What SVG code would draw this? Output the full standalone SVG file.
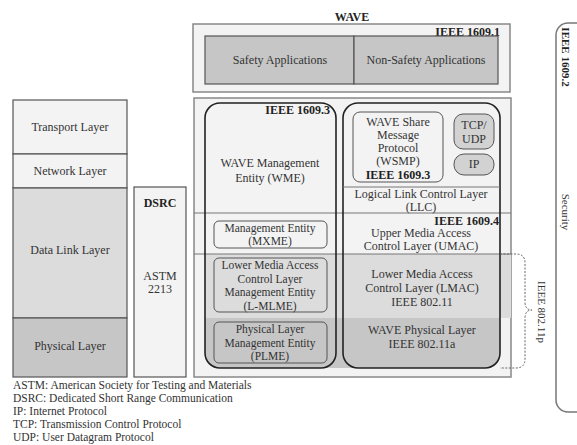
<svg xmlns="http://www.w3.org/2000/svg" width="577" height="445" viewBox="0 0 577 445">
<style>
text{font-family:"Liberation Serif","Times New Roman",serif;font-size:12px;fill:#333;text-anchor:middle;dominant-baseline:central}
.b{font-weight:bold;fill:#222}
.l{text-anchor:start;font-size:11.5px}
.r{text-anchor:end}
.s{font-size:11.5px}
.box{stroke:#555;stroke-width:1.2}
.light{fill:#f3f3f3}
.mid{fill:#dcdcdc}
.dark{fill:#c6c6c6}
.col{fill:none;stroke:#222;stroke-width:1.6}
.sub{fill:none;stroke:#555;stroke-width:1}
</style>
<rect width="577" height="445" fill="#fff"/>

<g id="wave-apps">
<text x="352" y="17" class="b">WAVE</text>
<rect x="193" y="24" width="317" height="68" class="light" stroke="#888" stroke-width="1.5"/>
<text x="500" y="32" class="b r">IEEE 1609.1</text>
<rect id="safety" x="205" y="36" width="149" height="48" class="dark box"/>
<text x="280" y="60">Safety Applications</text>
<rect id="nonsafety" x="354" y="36" width="144" height="48" class="dark box"/>
<text x="426" y="60">Non-Safety Applications</text>
</g>

<g id="osi-stack">
<rect x="13" y="100" width="114" height="54" class="light box"/>
<text x="70" y="127">Transport Layer</text>
<rect x="13" y="154" width="114" height="34" class="light box"/>
<text x="70" y="171">Network Layer</text>
<rect x="13" y="188" width="114" height="130" class="mid box"/>
<text x="70" y="250">Data Link Layer</text>
<rect x="13" y="318" width="114" height="59" class="dark box"/>
<text x="70" y="346">Physical Layer</text>
</g>

<g id="dsrc">
<rect x="134" y="187" width="52" height="190" class="light box"/>
<text x="160" y="203" class="b">DSRC</text>
<text x="160" y="276">ASTM</text>
<text x="160" y="289">2213</text>
</g>

<g id="wave-stack">
<rect x="194" y="98" width="317" height="279" class="light" stroke="#888" stroke-width="1.5"/>
<rect x="205" y="254" width="306" height="64" class="mid"/>
<path d="M205,318 H500 V353 Q500,368 485,368 H220 Q205,368 205,353 Z" class="dark"/>
<line x1="194" y1="213" x2="511" y2="213" stroke="#777" stroke-width="1"/>
<line x1="194" y1="254" x2="511" y2="254" stroke="#777" stroke-width="1"/>
</g>

<g id="wme-column">
<rect x="205" y="103" width="131" height="265" rx="15" class="col"/>
<text x="330" y="110" class="b r">IEEE 1609.3</text>
<text x="270" y="163">WAVE Management</text>
<text x="270" y="178">Entity (WME)</text>
</g>

<g id="mxme">
<rect x="214" y="221" width="113" height="27" rx="5" class="sub"/>
<text x="270" y="228" class="s">Management Entity</text>
<text x="270" y="241" class="s">(MXME)</text>
</g>

<g id="lmlme">
<rect x="214" y="258" width="113" height="54" rx="5" class="sub"/>
<text x="270" y="265" class="s">Lower Media Access</text>
<text x="270" y="278.5" class="s">Control Layer</text>
<text x="270" y="292" class="s">Management Entity</text>
<text x="270" y="305.5" class="s">(L-MLME)</text>
</g>

<g id="plme">
<rect x="214" y="322" width="113" height="41" rx="5" class="sub"/>
<text x="270" y="329" class="s">Physical Layer</text>
<text x="270" y="342.5" class="s">Management Entity</text>
<text x="270" y="356" class="s">(PLME)</text>
</g>

<g id="data-column">
<rect x="343" y="103" width="157" height="265" rx="15" class="col"/>
<line x1="343" y1="187" x2="500" y2="187" stroke="#777" stroke-width="1"/>
<text x="421" y="194">Logical Link Control Layer</text>
<text x="421" y="207">(LLC)</text>
<text x="499" y="221" class="b r">IEEE 1609.4</text>
<text x="421" y="233">Upper Media Access</text>
<text x="421" y="246">Control Layer (UMAC)</text>
<text x="422" y="274">Lower Media Access</text>
<text x="422" y="288">Control Layer (LMAC)</text>
<text x="422" y="302">IEEE 802.11</text>
<text x="422" y="330">WAVE Physical Layer</text>
<text x="422" y="344">IEEE 802.11a</text>
</g>

<g id="wsmp">
<rect x="353" y="112" width="90" height="70" rx="7" class="sub"/>
<text x="398" y="122">WAVE Share</text>
<text x="398" y="135">Message</text>
<text x="398" y="148">Protocol</text>
<text x="398" y="161">(WSMP)</text>
<text x="398" y="175" class="b">IEEE 1609.3</text>
</g>

<g id="tcp-udp">
<rect x="454" y="114" width="40" height="35" rx="9" fill="#d2d2d2" stroke="#555" stroke-width="1"/>
<text x="474" y="125">TCP/</text>
<text x="474" y="139">UDP</text>
</g>

<g id="ip">
<rect x="454" y="154" width="40" height="21" rx="10" fill="#d2d2d2" stroke="#555" stroke-width="1"/>
<text x="474" y="164">IP</text>
</g>

<g id="security">
<rect x="556" y="23" width="40" height="389" rx="12" fill="#fff" stroke="#777" stroke-width="1.5"/>
<text transform="translate(566,57) rotate(90)" class="b" style="font-size:11px">IEEE 1609.2</text>
<text transform="translate(566,212) rotate(90)" style="font-size:11px">Security</text>
</g>

<g id="connectors">
<path d="M500,254 H516 Q525,254 525,263 V302 Q525,310 532,310 Q525,310 525,318 V359 Q525,368 516,368 H500" fill="none" stroke="#666" stroke-width="1" stroke-dasharray="2,1.5"/>
<text transform="translate(542,312) rotate(90)" style="font-size:11px">IEEE 802.11p</text>
</g>

<g id="legend">
<text x="13" y="385" class="l">ASTM: American Society for Testing and Materials</text>
<text x="13" y="398" class="l">DSRC: Dedicated Short Range Communication</text>
<text x="13" y="411" class="l">IP: Internet Protocol</text>
<text x="13" y="424" class="l">TCP: Transmission Control Protocol</text>
<text x="13" y="437" class="l">UDP: User Datagram Protocol</text>
</g>
</svg>
